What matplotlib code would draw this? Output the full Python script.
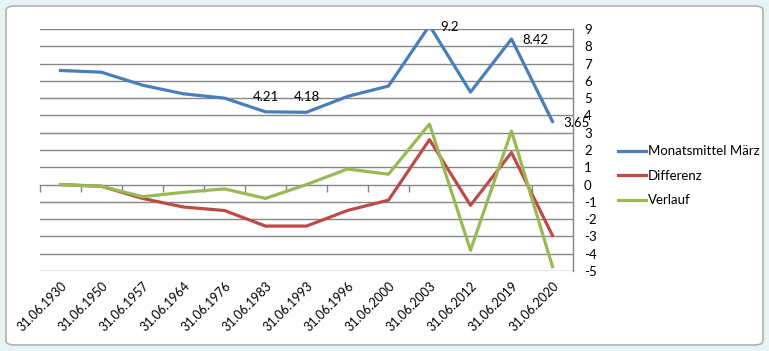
import matplotlib
matplotlib.use("Agg")
import matplotlib.pyplot as plt
from matplotlib.patches import FancyBboxPatch
import numpy as np

categories = ["31.06.1930", "31.06.1950", "31.06.1957", "31.06.1964", "31.06.1976",
              "31.06.1983", "31.06.1993", "31.06.1996", "31.06.2000", "31.06.2003",
              "31.06.2012", "31.06.2019", "31.06.2020"]
monatsmittel = [6.6, 6.5, 5.75, 5.25, 5.0, 4.21, 4.18, 5.1, 5.7, 9.2, 5.35, 8.42, 3.65]
differenz = [0.0, -0.1, -0.8, -1.3, -1.5, -2.4, -2.4, -1.5, -0.9, 2.6, -1.2, 1.85, -2.95]
verlauf = [0.0, -0.1, -0.7, -0.45, -0.25, -0.8, 0.0, 0.9, 0.6, 3.5, -3.8, 3.1, -4.75]
y_ticks = list(range(-5, 10))

plt.rcParams['font.family'] = ['Lato', 'DejaVu Sans']
plt.rcParams['axes.unicode_minus'] = False

W, H = 769, 351
fig = plt.figure(figsize=(W / 100, H / 100), dpi=100)
fig.patch.set_facecolor("#e8f3f3")
frame = FancyBboxPatch((6 / W, 6 / H), 757 / W, 339 / H,
                       boxstyle="round,pad=0,rounding_size=0.012",
                       transform=fig.transFigure, facecolor="white",
                       edgecolor="#aab4b4", linewidth=1.2, zorder=-5)
fig.patches.append(frame)

left, right, top, bottom = 40, 573, 29, 271
ax = fig.add_axes([left / W, 1 - bottom / H, (right - left) / W, (bottom - top) / H])
ax.set_facecolor("none")
ax.set_zorder(2)

x = np.arange(len(categories))
blue, red, green = "#4a7ebb", "#be4b48", "#98b954"
lw = 2.3
ax.plot(x, monatsmittel, color=blue, lw=lw, label="Monatsmittel März", zorder=3)
ax.plot(x, differenz, color=red, lw=lw, label="Differenz", zorder=3)
ax.plot(x, verlauf, color=green, lw=lw, label="Verlauf", zorder=4)

ax.set_xlim(-0.5, len(categories) - 0.5)
ax.set_ylim(-5, 9)
ax.set_yticks(y_ticks)
ax.yaxis.tick_right()
ax.tick_params(axis="y", length=0, pad=8, labelsize=9.5)
for t in y_ticks:
    if t != 0:
        ax.axhline(t, color="#868686", lw=1.0, zorder=1)

for s in ["left", "top", "bottom"]:
    ax.spines[s].set_visible(False)
ax.spines["right"].set_color("#868686")
ax.spines["right"].set_linewidth(1.0)

ax.set_xticks(x)
ax.set_xticklabels(categories, rotation=45, ha="right", va="top", rotation_mode="anchor")
ax.tick_params(axis="x", length=0, pad=6, labelsize=9)

# category axis line at y=0 with boundary tick marks
sec = ax.secondary_xaxis(5 / 14)
sec.set_xticks(np.arange(-0.5, len(categories), 1.0))
sec.tick_params(axis="x", direction="out", length=5, color="#868686", width=1.0,
                labelbottom=False)
sec.spines["bottom"].set_color("#868686")
sec.spines["bottom"].set_linewidth(1.0)

# data labels
fs = 9.5
ax.annotate("4.21", (5, monatsmittel[5]), xytext=(0, 11), textcoords="offset points",
            ha="center", va="center", fontsize=fs)
ax.annotate("4.18", (6, monatsmittel[6]), xytext=(0, 11), textcoords="offset points",
            ha="center", va="center", fontsize=fs)
for i in [9, 11, 12]:
    ax.annotate(f"{monatsmittel[i]:g}", (i, monatsmittel[i]), xytext=(8, -1),
                textcoords="offset points", ha="left", va="center", fontsize=fs,
                annotation_clip=False)

fig.legend(loc="upper left", bbox_to_anchor=(613 / W, 1 - 140 / H), frameon=False,
           fontsize=9.5, handlelength=2.1, handletextpad=0.15, labelspacing=0.95,
           borderaxespad=0)

fig.savefig("out.png", dpi=100, facecolor=fig.get_facecolor())
